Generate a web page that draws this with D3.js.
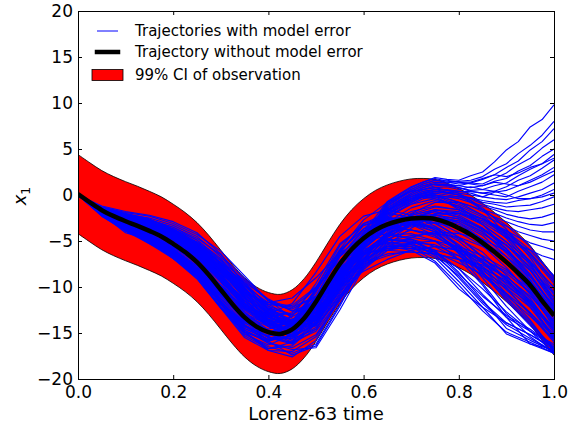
<!DOCTYPE html>
<html><head><meta charset="utf-8">
<script src="https://cdn.jsdelivr.net/npm/d3@7"></script>
<style>body{margin:0;background:#fff}</style>
</head><body><svg id="c" width="580" height="434" xmlns="http://www.w3.org/2000/svg"></svg>
<script>
// ---------- data ----------
const T41 = [0,0.025,0.05,0.075,0.1,0.125,0.15,0.175,0.2,0.225,0.25,0.275,0.3,0.325,0.35,0.375,0.4,0.425,0.45,0.475,0.5,0.525,0.55,0.575,0.6,0.625,0.65,0.675,0.7,0.725,0.75,0.775,0.8,0.825,0.85,0.875,0.9,0.925,0.95,0.975,1.0];
const truth = [0.1,-0.8,-1.65,-2.3,-2.85,-3.35,-3.9,-4.5,-5.3,-6.2,-7.3,-8.7,-10.3,-11.9,-13.3,-14.3,-14.9,-15.1,-14.6,-13.4,-11.6,-9.5,-7.5,-5.9,-4.7,-3.8,-3.2,-2.8,-2.55,-2.5,-2.6,-3.0,-3.6,-4.3,-5.2,-6.2,-7.3,-8.5,-9.8,-11.5,-13.1];
const ciUpper = [4.4,3.5,2.65,2.0,1.45,0.95,0.4,-0.2,-1.0,-1.9,-3.0,-4.4,-6.0,-7.6,-9.0,-10.0,-10.6,-10.8,-10.3,-9.1,-7.3,-5.2,-3.2,-1.6,-0.4,0.5,1.1,1.5,1.75,1.8,1.7,1.3,0.7,0.0,-0.9,-1.9,-3.0,-4.2,-5.5,-7.2,-8.8];
const ciLower = [-4.2,-5.1,-5.95,-6.6,-7.15,-7.65,-8.2,-8.8,-9.6,-10.5,-11.6,-13.0,-14.6,-16.2,-17.6,-18.6,-19.2,-19.4,-18.9,-17.7,-15.9,-13.8,-11.8,-10.2,-9.0,-8.1,-7.5,-7.1,-6.85,-6.8,-6.9,-7.3,-7.9,-8.6,-9.5,-10.5,-11.6,-12.8,-14.1,-15.8,-17.4];

// ensemble members that stay near the truth (t = 0, 0.05, ..., 1)
const T21 = [0,0.05,0.1,0.15,0.2,0.25,0.3,0.35,0.4,0.45,0.5,0.55,0.6,0.65,0.7,0.75,0.8,0.85,0.9,0.95,1.0];
const coreTrajectories = [
 [0,-1.5,-2.4,-3.1,-4.1,-5.5,-7.8,-10.3,-12.4,-13.8,-13.1,-9.5,-5.9,-3.7,-2.4,-1.8,-2.4,-3.7,-5.5,-7.8,-10.8],
 [0,-1.9,-3.3,-4.5,-6.1,-8.3,-11.5,-14.3,-15.4,-14.1,-10.4,-6.0,-3.7,-2.7,-2.6,-3.1,-4.6,-6.7,-9.1,-11.8,-15.5],
 [0,-1.4,-2.1,-2.7,-3.5,-4.7,-6.5,-9.1,-11.4,-13.4,-13.6,-10.1,-6.5,-4.0,-2.1,-1.3,-1.6,-2.6,-4.1,-6.3,-9.2],
 [0,-2.1,-3.7,-4.9,-6.5,-8.6,-11.8,-14.9,-15.9,-14.4,-10.1,-5.5,-3.1,-2.4,-2.8,-3.8,-5.6,-7.8,-10.3,-12.8,-15.8],
 [0,-1.6,-2.6,-3.4,-4.7,-6.4,-9.0,-11.7,-13.6,-14.2,-12.4,-8.7,-5.5,-3.5,-2.4,-2.1,-3.0,-4.4,-6.7,-8.9,-12.0],
 [0,-1.3,-1.9,-2.3,-3.1,-4.3,-6.1,-8.8,-11.5,-12.6,-12.8,-10.3,-6.9,-4.2,-2.0,-0.8,-0.8,-1.6,-3.3,-5.6,-9.0],
 [0,-1.8,-2.7,-3.8,-4.9,-6.7,-9.9,-12.5,-14.3,-14.8,-12.2,-7.9,-4.5,-2.7,-2.3,-2.8,-4.1,-5.5,-7.9,-10.8,-14.2],
 [0,-1.4,-2.3,-3.3,-4.3,-5.9,-8.3,-11.1,-13.5,-15.2,-14.2,-9.9,-6.3,-4.2,-3.2,-2.6,-2.8,-4.2,-5.8,-8.6,-12.2],
 [0,-2.0,-3.4,-4.8,-6.4,-8.2,-10.9,-13.5,-14.6,-13.7,-10.2,-6.5,-4.3,-3.6,-3.8,-4.4,-6.1,-8.4,-11.1,-13.8,-16.8],
 [0,-1.5,-2.5,-3.0,-3.7,-5.1,-7.3,-9.7,-11.9,-13.2,-12.0,-8.5,-5.3,-3.0,-1.4,-0.6,-1.2,-2.4,-4.7,-7.6,-11.2],
 [0,-2.2,-3.8,-5.2,-6.7,-8.8,-11.6,-14.9,-16.7,-16.0,-12.2,-7.3,-4.1,-2.8,-3.0,-4.0,-6.0,-8.6,-11.3,-14.0,-16.6],
 [0,-1.6,-2.3,-2.8,-3.9,-5.3,-7.5,-9.9,-11.7,-12.4,-11.0,-8.3,-5.7,-3.6,-2.2,-1.6,-2.0,-3.2,-5.1,-7.2,-10.1],
 [0,-1.7,-3.1,-4.3,-5.6,-7.3,-9.8,-12.3,-13.7,-13.8,-11.9,-8.7,-6.1,-4.2,-3.2,-3.4,-4.8,-6.2,-8.7,-11.6,-15.0],
 [0,-1.5,-2.7,-3.4,-4.4,-6.1,-8.5,-10.7,-11.9,-12.0,-10.0,-7.1,-5.1,-3.8,-2.8,-2.2,-2.6,-3.6,-5.4,-8.2,-11.8],
 [0,-1.9,-3.5,-4.7,-6.3,-8.7,-11.5,-14.1,-15.5,-16.0,-13.8,-10.3,-6.9,-4.8,-3.8,-4.2,-5.8,-8.0,-10.7,-13.6,-17.0],
 [0,-1.4,-2.2,-2.9,-3.9,-5.1,-7.1,-9.3,-11.5,-12.2,-11.0,-8.7,-6.3,-4.2,-2.6,-1.8,-2.4,-3.8,-5.5,-7.4,-10.0],
 [0,-1.8,-3.2,-4.1,-5.3,-6.9,-9.3,-12.1,-14.1,-15.0,-13.4,-9.7,-6.5,-4.4,-3.4,-3.0,-3.6,-5.0,-6.7,-9.4,-12.8],
 [0,-1.3,-2.1,-2.5,-3.3,-4.5,-6.7,-9.5,-12.1,-14.0,-14.0,-10.5,-7.3,-5.0,-3.2,-2.0,-2.0,-2.8,-4.3,-6.6,-9.6],
 [0,-2.0,-3.3,-4.5,-5.9,-7.7,-10.5,-13.1,-14.9,-15.2,-12.4,-7.7,-4.3,-2.6,-2.4,-3.0,-4.6,-6.8,-9.3,-12.2,-15.6],
 [0,-1.5,-2.4,-3.2,-4.3,-5.7,-8.1,-11.3,-13.9,-15.6,-14.6,-10.7,-7.1,-4.6,-3.0,-2.4,-3.2,-4.8,-7.3,-10.2,-13.8],
 [0,-1.6,-2.7,-3.5,-4.5,-6.3,-8.9,-11.5,-13.1,-13.6,-11.8,-8.3,-5.5,-3.4,-2.2,-1.6,-2.2,-3.6,-5.9,-8.8,-12.4],
 [0,-2.0,-3.6,-4.8,-6.2,-7.9,-10.5,-12.9,-14.1,-13.2,-9.6,-5.3,-3.3,-2.6,-2.8,-3.6,-5.4,-7.4,-9.7,-12.0,-14.6],
 [0,-1.5,-2.5,-3.4,-4.6,-6.1,-8.5,-11.7,-14.3,-15.4,-13.6,-9.3,-5.7,-3.8,-2.8,-2.4,-3.0,-4.8,-7.3,-10.4,-14.4],
 [0,-1.3,-2.0,-2.6,-3.7,-4.9,-6.9,-10.1,-12.7,-14.2,-13.2,-9.9,-6.7,-4.4,-2.6,-1.6,-1.8,-3.2,-5.1,-8.0,-11.6],
 [0,-1.9,-3.1,-4.3,-5.9,-8.1,-10.9,-13.7,-14.9,-14.2,-11.0,-6.7,-3.9,-3.0,-3.2,-3.6,-5.0,-7.2,-10.1,-13.0,-16.0],
 [0,-1.4,-2.3,-2.9,-4.1,-5.7,-7.7,-10.3,-12.3,-13.0,-11.6,-8.9,-6.5,-4.6,-3.2,-2.2,-2.6,-4.0,-6.3,-9.2,-12.6],
 [0,-1.2,-1.8,-2.2,-2.9,-4.1,-6.4,-9.7,-12.5,-14.4,-14.2,-10.9,-7.7,-5.4,-3.6,-2.2,-2.0,-2.6,-3.9,-6.0,-8.8],
 [0,-2.3,-3.9,-5.1,-6.3,-7.7,-10.1,-12.3,-12.9,-11.8,-8.4,-4.5,-2.3,-1.6,-2.2,-3.4,-5.6,-8.4,-11.5,-14.2,-16.8],
 [0,-1.7,-2.5,-3.0,-3.8,-5.2,-7.4,-9.5,-11.3,-12.6,-11.8,-9.3,-7.1,-5.6,-4.6,-4.0,-4.2,-4.8,-6.1,-8.2,-11.2],
 [0,-2.0,-3.1,-4.4,-5.6,-7.5,-10.1,-12.7,-14.7,-15.8,-14.4,-11.1,-7.9,-6.0,-5.6,-6.2,-8.0,-10.2,-12.7,-14.8,-16.6],
 [0,-1.4,-2.4,-3.3,-4.4,-5.9,-8.1,-10.5,-11.9,-12.2,-10.2,-6.7,-3.7,-1.6,-0.4,0.0,-0.8,-2.2,-4.5,-7.2,-10.8],
 [0,-2.1,-3.5,-4.9,-6.6,-8.9,-12.2,-15.3,-16.7,-16.4,-14.0,-9.5,-5.7,-3.6,-3.2,-4.0,-6.2,-9.0,-12.1,-14.8,-17.2],
 [0,-1.5,-2.6,-3.7,-4.9,-6.5,-8.9,-11.3,-12.7,-13.0,-11.0,-7.5,-4.5,-2.4,-1.0,-0.4,-1.2,-3.2,-5.9,-9.2,-13.4],
 [0,-1.6,-3.0,-4.2,-5.9,-8.2,-11.3,-13.9,-14.9,-14.4,-12.0,-9.1,-7.3,-6.4,-6.2,-6.4,-7.0,-8.0,-9.3,-11.4,-14.6],
 [0,-1.3,-2.1,-2.7,-3.7,-5.3,-7.9,-11.1,-13.3,-14.0,-12.2,-8.5,-5.1,-2.6,-0.8,0.4,0.0,-1.6,-4.3,-7.4,-11.6],
 [0,-1.9,-3.4,-4.6,-6.1,-8.4,-11.8,-14.7,-15.9,-15.2,-11.2,-6.3,-3.1,-2.0,-2.4,-3.8,-6.4,-9.6,-12.9,-15.4,-17.2],
 [0,-1.5,-2.3,-2.9,-4.1,-5.7,-8.3,-10.7,-11.7,-11.2,-9.0,-6.3,-4.7,-3.8,-3.0,-2.4,-2.8,-4.0,-6.1,-8.8,-12.2],
 [0,-1.8,-3.2,-4.0,-5.1,-6.8,-9.5,-12.7,-14.9,-16.0,-14.8,-11.3,-8.1,-6.0,-5.2,-5.4,-6.6,-8.4,-10.9,-13.2,-15.6],
 [0,-1.4,-2.5,-3.1,-4.3,-6.1,-9.1,-11.9,-13.3,-12.8,-10.0,-5.9,-2.7,-0.8,0.4,0.8,0.2,-1.4,-3.7,-6.8,-10.6],
 [0,-2.2,-3.6,-4.7,-6.5,-8.7,-11.7,-14.3,-15.3,-14.6,-12.4,-9.9,-8.3,-7.0,-6.0,-5.6,-6.0,-7.2,-9.1,-11.8,-15.6],
 [0,-1.5,-2.7,-3.3,-4.1,-5.5,-7.9,-10.3,-12.1,-13.0,-11.4,-8.1,-5.3,-3.2,-1.8,-1.2,-1.6,-2.6,-4.1,-6.4,-9.4],
 [0,-1.9,-3.3,-4.3,-5.9,-7.9,-10.7,-13.5,-15.5,-16.2,-14.0,-9.5,-6.1,-4.4,-4.2,-5.0,-7.0,-9.8,-13.3,-16.2,-17.2],
 [0,-2.1,-3.7,-5.0,-6.6,-8.5,-11.3,-13.9,-15.1,-14.0,-10.4,-6.7,-4.7,-4.2,-4.8,-5.6,-7.0,-8.8,-10.7,-12.8,-15.4],
 [0,-1.9,-3.5,-4.8,-6.5,-8.7,-11.8,-14.5,-15.7,-14.8,-11.4,-7.9,-5.9,-5.2,-5.4,-6.0,-6.6,-7.8,-9.5,-11.6,-14.4],
 [0,-2.0,-3.4,-4.6,-6.0,-8.1,-10.9,-13.7,-15.5,-15.6,-13.0,-9.3,-6.9,-5.8,-5.8,-6.2,-7.4,-8.6,-10.1,-12.2,-15.2],
 [0,-2.2,-3.9,-5.3,-6.9,-8.9,-11.7,-14.3,-15.7,-15.4,-12.2,-7.7,-5.1,-4.4,-4.6,-5.0,-6.2,-7.4,-8.9,-11.0,-13.8],
 [0,-1.8,-3.2,-4.5,-6.2,-8.4,-11.5,-14.2,-15.3,-14.2,-10.6,-6.1,-3.7,-3.2,-3.8,-4.6,-5.8,-7.0,-8.3,-10.2,-13.0],
 [0,-2.1,-3.6,-4.7,-6.3,-8.6,-11.9,-15.1,-16.3,-15.2,-11.8,-8.1,-6.3,-6.0,-6.2,-6.4,-7.0,-7.6,-8.9,-11.2,-14.8],
 [0,-1.6,-2.6,-3.5,-4.9,-6.7,-9.4,-12.1,-13.5,-13.6,-11.6,-8.5,-6.5,-5.6,-5.2,-5.0,-5.6,-6.6,-8.1,-10.6,-14.0],
 [0,-1.9,-3.3,-4.3,-5.8,-7.7,-10.5,-13.1,-14.3,-13.8,-11.2,-8.1,-6.1,-5.0,-4.4,-4.2,-4.6,-5.6,-7.1,-9.4,-12.6],
 [0,-2.0,-3.5,-4.9,-6.7,-9.1,-12.3,-14.9,-15.9,-14.8,-11.0,-6.3,-3.3,-2.4,-3.2,-4.4,-6.2,-8.2,-9.9,-11.8,-14.6],
 [0,-1.8,-3.1,-4.2,-5.5,-7.2,-9.8,-12.4,-13.9,-14.2,-12.2,-9.1,-7.5,-6.6,-6.0,-5.6,-6.0,-7.0,-8.5,-10.6,-13.6],
 [0,-2.3,-3.9,-5.1,-6.7,-8.9,-12.1,-15.1,-16.5,-17.2,-16.2,-11.9,-7.5,-5.2,-5.0,-6.0,-8.4,-11.4,-14.5,-15.8,-17.0],
 [0,-2.1,-4.1,-4.9,-6.9,-8.7,-11.9,-14.7,-16.1,-16.8,-16.6,-12.5,-7.9,-5.6,-5.6,-6.8,-9.4,-12.2,-15.1,-16.2,-16.8],
 [0,-1.9,-3.5,-4.9,-6.1,-8.3,-11.5,-14.9,-16.9,-17.6,-15.8,-11.1,-6.9,-4.8,-5.2,-6.6,-8.8,-11.6,-13.9,-15.2,-16.6],
 [0,-2.2,-3.7,-5.3,-6.5,-8.1,-10.7,-13.7,-15.9,-17.4,-16.4,-12.1,-7.3,-5.0,-4.8,-6.2,-8.0,-10.8,-13.3,-14.8,-16.2],
 [0,-2.0,-3.5,-4.7,-6.3,-8.3,-11.1,-14.1,-16.1,-16.6,-15.2,-11.3,-7.3,-5.4,-5.6,-7.2,-9.8,-12.6,-14.9,-16.0,-17.2],
 [0,-1.7,-3.1,-4.5,-6.2,-8.5,-11.7,-14.5,-15.7,-15.6,-13.8,-10.3,-7.1,-5.6,-6.0,-7.4,-10.2,-12.2,-13.9,-15.2,-16.8],
 [0,-2.1,-3.3,-4.5,-5.7,-7.3,-9.9,-12.9,-15.1,-16.2,-14.6,-10.3,-6.5,-4.8,-5.0,-6.2,-8.6,-11.0,-13.1,-14.6,-16.4],
 [0,-1.9,-3.7,-5.1,-6.9,-9.1,-12.3,-15.5,-16.9,-17.0,-15.4,-11.5,-7.7,-5.8,-5.4,-6.4,-9.0,-11.8,-14.1,-15.6,-17.0]
];

// ensemble members that leave the band late: head at t = 0 ... 0.6, tail at t = 0.65 ... 1.0
const tailT = [0.65,0.675,0.7,0.725,0.75,0.775,0.8,0.825,0.85,0.875,0.9,0.925,0.95,0.975,1.0];
const divergingHeads = [
 [0,-1.5,-2.5,-3.3,-4.3,-5.9,-8.3,-10.9,-12.9,-14.0,-12.6,-8.5,-4.1],
 [0,-1.8,-2.6,-3.5,-4.5,-6.3,-8.7,-11.5,-13.5,-14.4,-13.0,-9.1,-4.5],
 [0,-1.4,-2.4,-3.0,-3.9,-5.3,-7.5,-10.3,-12.5,-13.8,-13.2,-9.5,-5.3],
 [0,-1.6,-2.7,-3.6,-4.7,-6.5,-9.1,-11.9,-13.9,-15.0,-13.6,-9.3,-4.9],
 [0,-1.5,-2.3,-2.9,-4.1,-5.5,-7.7,-10.5,-12.7,-14.0,-12.8,-8.9,-4.7],
 [0,-1.9,-3.0,-3.7,-4.9,-6.7,-9.3,-12.3,-14.3,-15.2,-13.8,-9.7,-5.3],
 [0,-1.4,-2.2,-2.7,-3.5,-4.9,-7.1,-9.9,-12.3,-13.8,-13.0,-9.1,-4.9],
 [0,-1.7,-2.7,-3.3,-4.5,-6.1,-8.7,-11.7,-13.7,-14.6,-13.2,-9.1,-5.1],
 [0,-1.5,-2.5,-3.2,-4.2,-5.7,-7.9,-10.7,-13.1,-14.4,-13.4,-9.7,-5.5],
 [0,-1.8,-2.8,-3.5,-4.7,-6.3,-8.9,-12.1,-14.3,-15.4,-14.0,-10.1,-5.7],
 [0,-1.6,-2.6,-3.4,-4.4,-6.0,-8.3,-11.1,-13.3,-14.2,-12.8,-8.9,-4.9],
 [0,-1.5,-2.4,-3.1,-4.0,-5.4,-7.7,-10.5,-12.9,-14.2,-13.4,-9.5,-5.5],
 [0,-1.9,-2.9,-3.7,-4.8,-6.5,-9.1,-11.9,-13.9,-14.8,-13.4,-9.3,-5.1],
 [0,-1.6,-2.5,-3.0,-3.9,-5.3,-7.5,-10.1,-12.5,-13.8,-12.8,-9.1,-5.1],
 [0,-1.7,-2.7,-3.6,-4.7,-6.3,-8.7,-11.5,-13.7,-14.8,-13.6,-9.7,-5.5],
 [0,-1.5,-2.6,-3.3,-4.3,-5.8,-8.1,-10.9,-13.3,-14.4,-13.2,-9.3,-5.3],
 [0,-1.6,-2.4,-3.2,-4.2,-5.6,-7.8,-10.6,-12.8,-14.1,-13.0,-9.0,-4.6],
 [0,-1.8,-2.9,-3.6,-4.6,-6.2,-8.8,-11.8,-13.8,-14.7,-13.5,-9.6,-5.0],
 [0,-1.4,-2.3,-2.8,-3.8,-5.2,-7.4,-10.2,-12.4,-13.6,-12.7,-9.2,-4.8],
 [0,-1.7,-2.6,-3.4,-4.4,-6.0,-8.4,-11.2,-13.2,-14.3,-13.1,-8.8,-4.4],
 [0,-1.5,-2.5,-3.1,-4.1,-5.6,-8.0,-10.8,-13.0,-14.2,-13.3,-9.4,-5.2],
 [0,-1.9,-2.8,-3.8,-4.9,-6.6,-9.2,-12.2,-14.1,-14.9,-13.6,-9.4,-5.0]
];
const divergingTails = [
 [-0.7,0.1,0.9,1.4,1.9,1.7,1.6,2.1,2.5,3.6,4.9,5.8,7.4,8.2,9.8],
 [-1.2,-0.3,0.4,1.0,1.4,1.3,1.5,1.6,2.0,2.8,3.4,4.5,5.4,6.5,8.0],
 [-1.0,-0.2,0.6,1.2,1.6,1.4,1.2,1.3,1.7,2.2,3.0,3.7,4.9,5.8,7.2],
 [-1.4,-0.6,0.2,0.8,1.2,1.1,1.0,1.3,1.2,1.8,2.4,3.3,4.0,5.1,6.0],
 [-0.8,0.0,0.8,1.4,1.8,1.5,1.4,1.2,1.0,1.5,1.8,2.6,3.2,4.2,5.0],
 [-1.6,-0.8,0.0,0.6,0.8,0.9,0.6,0.9,0.6,1.0,1.3,2.1,2.8,3.4,4.4],
 [-1.2,-0.4,0.4,1.0,1.2,1.0,0.8,0.5,0.6,0.4,0.9,1.6,2.1,2.9,3.8],
 [-1.8,-1.0,-0.2,0.4,0.6,0.5,0.4,0.2,-0.2,0.3,0.5,1.0,1.6,2.2,3.0],
 [-1.4,-0.6,0.0,0.6,1.0,1.1,0.8,0.4,0.2,0.0,-0.2,0.4,0.9,1.4,2.2],
 [-2.0,-1.2,-0.4,0.2,0.4,0.3,0.2,0.0,-0.2,-0.4,-0.5,-0.2,0.2,0.6,1.3],
 [-1.6,-0.8,-0.2,0.4,0.6,0.3,0.0,-0.3,-0.6,-0.8,-0.9,-0.6,-0.4,0.0,0.6],
 [-2.2,-1.4,-0.6,0.0,0.2,0.0,-0.2,-0.3,-0.8,-1.0,-1.3,-1.2,-1.1,-0.7,-0.2],
 [-1.8,-1.0,-0.4,0.2,0.4,0.2,0.0,-0.4,-1.0,-1.4,-1.7,-1.8,-1.6,-1.4,-1.0],
 [-2.0,-1.4,-0.6,0.0,0.0,-0.2,-0.4,-0.8,-1.2,-1.6,-2.1,-2.4,-2.6,-2.4,-2.0],
 [-2.2,-1.4,-0.8,-0.2,0.0,-0.2,-0.2,-0.6,-1.6,-2.0,-2.5,-2.9,-3.2,-3.3,-3.0],
 [-2.4,-1.6,-1.0,-0.4,-0.2,-0.4,-0.8,-1.2,-1.8,-2.4,-2.9,-3.4,-3.8,-4.0,-4.0],
 [-1.6,-0.8,-0.2,0.2,0.0,-0.6,-1.0,-1.6,-2.2,-2.8,-3.4,-4.0,-4.4,-4.8,-5.0],
 [-2.0,-1.2,-0.6,-0.2,-0.4,-0.8,-1.4,-2.0,-2.6,-3.2,-3.9,-4.6,-5.2,-5.6,-6.0],
 [-1.8,-1.0,-0.4,0.0,-0.2,-0.8,-1.6,-2.4,-3.0,-3.8,-4.6,-5.4,-6.0,-6.6,-7.0],
 [-1.0,-0.2,0.6,1.2,1.6,1.6,1.4,1.4,1.8,2.2,2.0,2.4,3.0,3.4,4.0],
 [-1.4,-0.6,0.2,0.8,1.2,1.2,1.0,0.8,1.0,1.4,1.2,1.0,1.4,2.0,2.6],
 [-1.8,-1.0,-0.4,0.2,0.6,0.6,0.4,0.4,0.2,0.4,0.0,-0.4,-0.4,-0.2,0.2]
];

const xTicks = [0.0, 0.2, 0.4, 0.6, 0.8, 1.0];
const yTicks = [-20, -15, -10, -5, 0, 5, 10, 15, 20];
const legendLabels = ["Trajectories with model error", "Trajectory without model error", "99% CI of observation"];
const xTitle = "Lorenz-63 time";

// ---------- build point tables ----------
const memberPoints = coreTrajectories.map(vals => vals.map((v, i) => [T21[i], v]));
divergingHeads.forEach((head, k) => {
  const pts = head.map((v, i) => [T21[i], v]);
  divergingTails[k].forEach((v, i) => pts.push([tailT[i], v]));
  memberPoints.push(pts);
});

// ---------- drawing ----------
const FONT = "DejaVu Sans, sans-serif";
const svg = d3.select("#c");
const M = {l: 78, r: 554, t: 11, b: 379};
const x = d3.scaleLinear().domain([0, 1]).range([M.l, M.r]);
const y = d3.scaleLinear().domain([-20, 20]).range([M.b, M.t]);

svg.append("rect").attr("width", 580).attr("height", 434).attr("fill", "#fff");
svg.append("defs").append("clipPath").attr("id", "clip")
  .append("rect").attr("x", M.l).attr("y", M.t).attr("width", M.r - M.l).attr("height", M.b - M.t);
const g = svg.append("g").attr("clip-path", "url(#clip)");

const band = d3.area()
  .x((d, i) => x(T41[i])).y0((d, i) => y(ciLower[i])).y1((d, i) => y(ciUpper[i]))
  .curve(d3.curveCatmullRom);
g.append("path").datum(T41).attr("d", band)
  .attr("fill", "#ff0000").attr("stroke", "#000").attr("stroke-width", 0.8);

const memberLine = d3.line().x(d => x(d[0])).y(d => y(d[1]));
g.selectAll("path.traj").data(memberPoints).join("path").attr("class", "traj")
  .attr("d", memberLine).attr("fill", "none").attr("stroke", "#0000ff")
  .attr("stroke-width", 1.15).attr("stroke-linejoin", "round");

const truthLine = d3.line().x((d, i) => x(T41[i])).y(d => y(d)).curve(d3.curveCatmullRom);
g.append("path").datum(truth).attr("d", truthLine)
  .attr("fill", "none").attr("stroke", "#000").attr("stroke-width", 4.5);

// axes
function styleAxis(sel, fs) {
  sel.select(".domain").remove();
  sel.selectAll(".tick line").attr("stroke", "#000").attr("stroke-width", 1);
  sel.selectAll("text").attr("font-family", FONT).attr("font-size", fs).attr("fill", "#000");
}
svg.append("g").attr("transform", `translate(${M.l},0)`)
  .call(d3.axisLeft(y).tickValues(yTicks).tickSize(-4).tickPadding(5).tickFormat(d3.format("d")))
  .call(s => styleAxis(s, 17));
svg.append("g").attr("transform", `translate(${M.r},0)`)
  .call(d3.axisRight(y).tickValues(yTicks).tickSize(-4).tickFormat(""))
  .call(s => styleAxis(s, 17));
svg.append("g").attr("transform", `translate(0,${M.b})`)
  .call(d3.axisBottom(x).tickValues(xTicks).tickSize(-4).tickPadding(7).tickFormat(d3.format(".1f")))
  .call(s => styleAxis(s, 17));
svg.append("g").attr("transform", `translate(0,${M.t})`)
  .call(d3.axisTop(x).tickValues(xTicks).tickSize(-4).tickFormat(""))
  .call(s => styleAxis(s, 17));

svg.append("rect").attr("x", M.l).attr("y", M.t).attr("width", M.r - M.l).attr("height", M.b - M.t)
  .attr("fill", "none").attr("stroke", "#000").attr("stroke-width", 1).attr("shape-rendering", "crispEdges");

// axis titles
svg.append("text").attr("x", (M.l + M.r) / 2).attr("y", 420).attr("text-anchor", "middle")
  .attr("font-family", FONT).attr("font-size", 18).text(xTitle);
const yl = svg.append("text").attr("transform", "translate(26,196) rotate(-90)")
  .attr("text-anchor", "middle").attr("font-family", FONT).attr("font-size", 18);
yl.append("tspan").attr("font-style", "italic").text("x");
yl.append("tspan").attr("font-size", 12.5).attr("dy", 4).text("1");

// legend
const lg = svg.append("g").attr("font-family", FONT).attr("font-size", 15);
const rowY = [31, 52, 75];
lg.append("line").attr("x1", 97).attr("x2", 118).attr("y1", rowY[0]).attr("y2", rowY[0])
  .attr("stroke", "#0000ff").attr("stroke-width", 1);
lg.append("line").attr("x1", 97).attr("x2", 118).attr("y1", rowY[1]).attr("y2", rowY[1])
  .attr("stroke", "#000").attr("stroke-width", 4.5).attr("stroke-linecap", "square");
lg.append("rect").attr("x", 92).attr("y", rowY[2] - 5.5).attr("width", 31).attr("height", 11)
  .attr("fill", "#ff0000").attr("stroke", "#000").attr("stroke-width", 0.8);
lg.selectAll("text.lab").data(legendLabels).join("text").attr("class", "lab")
  .attr("x", 135).attr("y", (d, i) => rowY[i]).attr("dy", "0.35em").text(d => d);
</script>
</body></html>
